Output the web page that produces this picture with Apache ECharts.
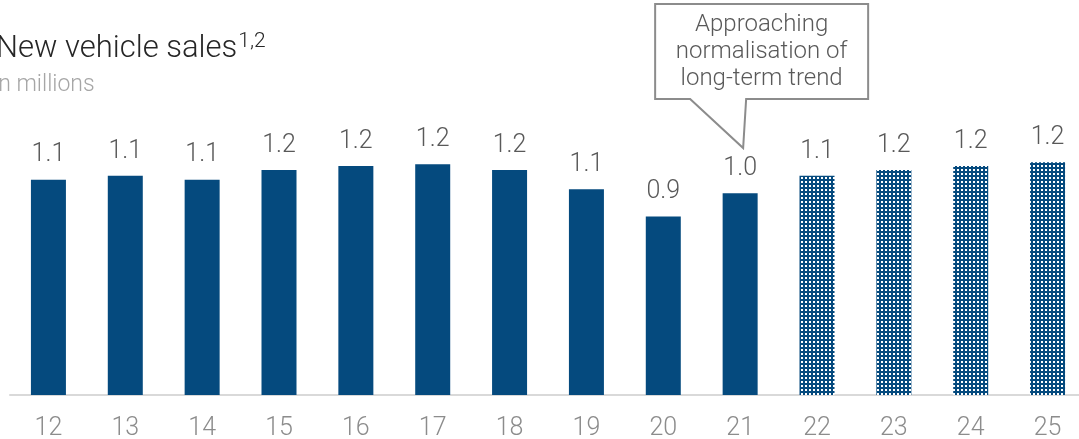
<!DOCTYPE html>
<html>
<head>
<meta charset="utf-8">
<script src="https://cdn.jsdelivr.net/npm/echarts@6/dist/echarts.min.js"></script>
<style>
  html, body { margin: 0; padding: 0; background: #fff; }
  #chart { width: 1079px; height: 439px; }
</style>
</head>
<body>
<div id="chart"></div>
<script>
// Years (20xx) and new vehicle sales in millions
const years = ['12', '13', '14', '15', '16', '17', '18', '19', '20', '21', '22', '23', '24', '25'];
const sales = [1.11, 1.13, 1.11, 1.16, 1.18, 1.19, 1.16, 1.06, 0.92, 1.04, 1.13, 1.16, 1.18, 1.20];
// First year that is a projection (drawn with a dotted fill)
const firstForecast = '22';
const titleText = 'New vehicle sales';
const titleNote = '1,2';
const unitText = 'in millions';
const calloutLines = ['Approaching', 'normalisation of', 'long-term trend'];
const calloutYear = '21';

const FONT = 'Roboto, "Noto Sans", sans-serif';
const BLUE = '#054a7e';

// Dotted fill for projected years
function dotPattern() {
  const c = document.createElement('canvas');
  c.width = 4; c.height = 4;
  const g = c.getContext('2d');
  g.fillStyle = BLUE;
  g.fillRect(0, 0, 4, 4);
  g.fillStyle = '#ffffff';
  g.fillRect(1, 1, 2, 2);
  return c;
}
const pattern = { image: dotPattern(), repeat: 'repeat' };
const forecastIdx = years.indexOf(firstForecast);

const chart = echarts.init(document.getElementById('chart'), null, { renderer: 'canvas' });

chart.setOption({
  animation: false,
  backgroundColor: '#ffffff',
  grid: {
    left: 10, width: 1076, top: 104, height: 291,
    containLabel: false, outerBoundsMode: 'none'
  },
  xAxis: {
    type: 'category',
    data: years,
    axisTick: { show: false },
    axisLine: { show: true, lineStyle: { color: '#d9d9d9', width: 2 } },
    axisLabel: { color: '#8c8c8c', fontSize: 25, fontFamily: FONT, fontWeight: 300, margin: 21 }
  },
  yAxis: { type: 'value', min: 0, max: 1.5, show: false, splitLine: { show: false } },
  series: [{
    type: 'bar',
    barWidth: 35,
    data: sales.map((v, i) => ({
      value: v,
      itemStyle: { color: i >= forecastIdx ? pattern : BLUE }
    })),
    label: {
      show: true,
      position: 'top',
      distance: 12,
      color: '#595959',
      fontSize: 25,
      fontFamily: FONT,
      fontWeight: 300,
      formatter: p => p.value.toFixed(1)
    }
  }],
  graphic: [
    {
      id: 'title', type: 'text', left: -4, top: 27,
      style: {
        text: '{t|' + titleText + '}{s|' + titleNote + '}',
        rich: {
          t: { fontSize: 31, fontFamily: FONT, fontWeight: 300, fill: '#262626', lineHeight: 38, verticalAlign: 'bottom' },
          s: { fontSize: 21, fontFamily: FONT, fontWeight: 300, fill: '#262626', lineHeight: 38, verticalAlign: 'top', padding: [4, 0, 0, 1] }
        }
      }
    },
    {
      id: 'unit', type: 'text', left: -7, top: 74,
      style: { text: unitText, fontSize: 23, fontFamily: FONT, fontWeight: 300, fill: '#a6a6a6' }
    }
  ]
});

// Callout box pointing at the chosen year's bar
const ci = years.indexOf(calloutYear);
const anchor = chart.convertToPixel({ seriesIndex: 0 }, [ci, sales[ci]]);
const tipX = anchor[0] + 3;
const tipY = 148;
const boxL = tipX - 88, boxR = tipX + 125, boxT = 4, boxB = 99;
chart.setOption({
  graphic: [
    {
      id: 'calloutBox',
      type: 'polygon',
      z: 50,
      shape: {
        points: [
          [boxL, boxT], [boxR, boxT], [boxR, boxB], [tipX + 3, boxB],
          [tipX, tipY], [tipX - 53, boxB], [boxL, boxB]
        ]
      },
      style: { fill: '#ffffff', stroke: '#8c8c8c', lineWidth: 2 }
    },
    {
      id: 'calloutText',
      type: 'text',
      z: 51,
      x: (boxL + boxR) / 2,
      y: (boxT + boxB) / 2,
      style: {
        text: calloutLines.join('\n'),
        fontSize: 24, fontFamily: FONT, fontWeight: 300, fill: '#595959',
        lineHeight: 27, align: 'center', verticalAlign: 'middle'
      }
    }
  ]
});
</script>
</body>
</html>
